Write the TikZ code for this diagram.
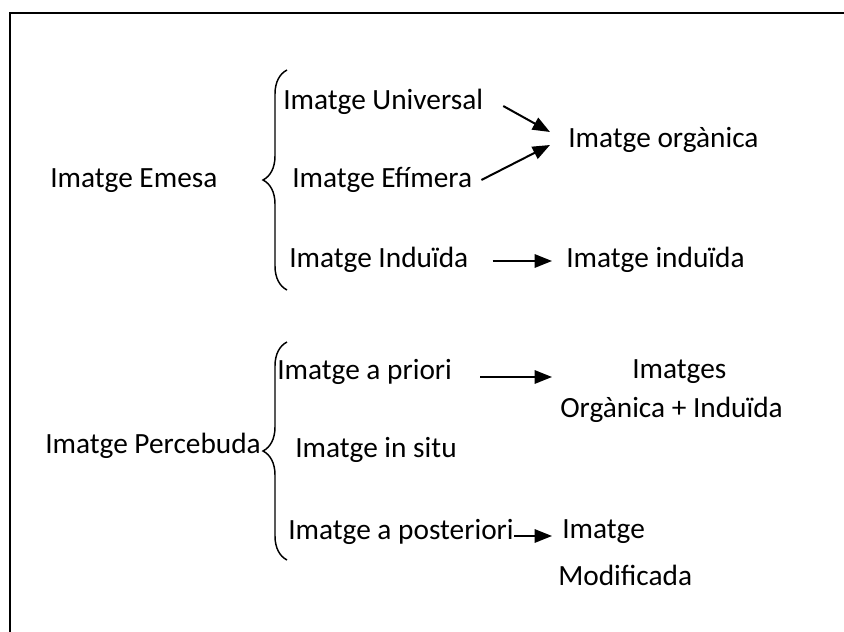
\documentclass[tikz,border=0pt]{standalone}
\usepackage{fontspec}
\setmainfont{Carlito}
\usetikzlibrary{arrows.meta,decorations.pathreplacing}
\begin{document}
\begin{tikzpicture}[x=0.75pt,y=-0.75pt,
    lbl/.style={anchor=west,inner sep=0pt,font=\fontsize{22}{26}\selectfont},
    arr/.style={line width=1.5pt,-{Triangle[length=13pt,width=10pt]}},
    curly/.style={line width=1.1pt,decorate,decoration={brace,amplitude=18pt}}]
    \useasboundingbox (0,0) rectangle (844,632);
    %% Frame
    \draw[line width=2pt] (10,632) -- (10,13) -- (844,13);
    %% Emesa
    \node[lbl] (emesa) at (50,181) {Imatge Emesa};
    \coordinate (eTop) at (287,70);
    \coordinate (eBot) at (287,290);
    \draw[curly] (eBot) -- (eTop);
    \node[lbl] (univ) at (283,102) {Imatge Universal};
    \node[lbl] (efim) at (292,180) {Imatge Efímera};
    \node[lbl] (indu) at (289,260) {Imatge Induïda};
    \node[lbl] (org) at (568,140) {Imatge orgànica};
    \node[lbl] (indu2) at (566,260) {Imatge induïda};
    \draw[arr] ([shift={(20,4)}]univ.east) -- ([shift={(-18,-8)}]org.west);
    \draw[arr] ([shift={(9,0)}]efim.east) -- ([shift={(-18,5)}]org.west);
    \draw[arr] ([shift={(24,1)}]indu.east) -- ([shift={(-14,1)}]indu2.west);
    %% Percebuda
    \node[lbl] (perc) at (45,446) {Imatge Percebuda};
    \coordinate (pTop) at (287,342);
    \coordinate (pBot) at (287,560);
    \draw[curly] (pBot) -- (pTop);
    \node[lbl] (prio) at (277,372) {Imatge a priori};
    \node[lbl] (situ) at (295,450) {Imatge in situ};
    \node[lbl] (post) at (288,532) {Imatge a posteriori};
    \node[lbl] (imgs) at (632,372) {Imatges};
    \node[lbl] (orgind) at (560,410) {Orgànica + Induïda};
    \node[lbl] (imgmod) at (562,532) {Imatge};
    \node[lbl] (modif) at (558,575) {Modificada};
    \draw[arr] ([shift={(28,5)}]prio.east) -- ([shift={(-80,5)}]imgs.west);
    \draw[arr] ([shift={(0,4)}]post.east) -- ([shift={(-10,4)}]imgmod.west);
\end{tikzpicture}
\end{document}
